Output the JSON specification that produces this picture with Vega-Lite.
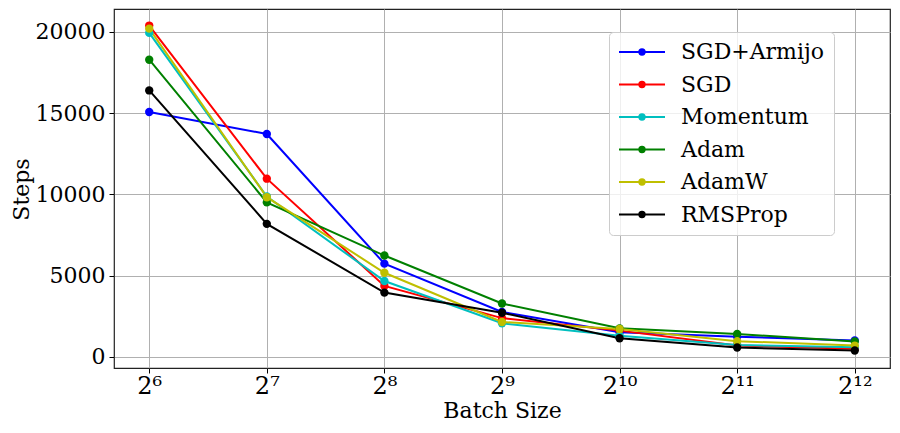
{
  "$schema": "https://vega.github.io/schema/vega-lite/v6.json",
  "width": 776,
  "height": 359,
  "autosize": "none",
  "padding": {"left": 114, "top": 9, "right": 10, "bottom": 65},
  "background": "white",
  "config": {
    "font": "DejaVu Serif",
    "view": {"stroke": "#222222", "strokeWidth": 1.2},
    "axis": {
      "labelFont": "DejaVu Serif",
      "titleFont": "DejaVu Serif",
      "labelFontSize": 22,
      "titleFontSize": 22,
      "titleFontWeight": "normal",
      "labelColor": "black",
      "titleColor": "black",
      "gridColor": "#b0b0b0",
      "gridWidth": 1,
      "gridOpacity": 1,
      "tickColor": "black",
      "tickSize": 5,
      "tickWidth": 1,
      "domain": false
    }
  },
  "data": {
    "values": [
      {"optimizer": "SGD+Armijo", "batch": 64, "steps": 15060},
      {"optimizer": "SGD+Armijo", "batch": 128, "steps": 13710},
      {"optimizer": "SGD+Armijo", "batch": 256, "steps": 5730},
      {"optimizer": "SGD+Armijo", "batch": 512, "steps": 2760},
      {"optimizer": "SGD+Armijo", "batch": 1024, "steps": 1510},
      {"optimizer": "SGD+Armijo", "batch": 2048, "steps": 1240},
      {"optimizer": "SGD+Armijo", "batch": 4096, "steps": 1000},
      {"optimizer": "SGD", "batch": 64, "steps": 20380},
      {"optimizer": "SGD", "batch": 128, "steps": 10960},
      {"optimizer": "SGD", "batch": 256, "steps": 4360},
      {"optimizer": "SGD", "batch": 512, "steps": 2380},
      {"optimizer": "SGD", "batch": 1024, "steps": 1610},
      {"optimizer": "SGD", "batch": 2048, "steps": 690},
      {"optimizer": "SGD", "batch": 4096, "steps": 490},
      {"optimizer": "Momentum", "batch": 64, "steps": 19930},
      {"optimizer": "Momentum", "batch": 128, "steps": 9860},
      {"optimizer": "Momentum", "batch": 256, "steps": 4660},
      {"optimizer": "Momentum", "batch": 512, "steps": 2060},
      {"optimizer": "Momentum", "batch": 1024, "steps": 1300},
      {"optimizer": "Momentum", "batch": 2048, "steps": 730},
      {"optimizer": "Momentum", "batch": 4096, "steps": 590},
      {"optimizer": "Adam", "batch": 64, "steps": 18280},
      {"optimizer": "Adam", "batch": 128, "steps": 9500},
      {"optimizer": "Adam", "batch": 256, "steps": 6230},
      {"optimizer": "Adam", "batch": 512, "steps": 3280},
      {"optimizer": "Adam", "batch": 1024, "steps": 1750},
      {"optimizer": "Adam", "batch": 2048, "steps": 1400},
      {"optimizer": "Adam", "batch": 4096, "steps": 940},
      {"optimizer": "AdamW", "batch": 64, "steps": 20190},
      {"optimizer": "AdamW", "batch": 128, "steps": 9820},
      {"optimizer": "AdamW", "batch": 256, "steps": 5170},
      {"optimizer": "AdamW", "batch": 512, "steps": 2140},
      {"optimizer": "AdamW", "batch": 1024, "steps": 1710},
      {"optimizer": "AdamW", "batch": 2048, "steps": 960},
      {"optimizer": "AdamW", "batch": 4096, "steps": 690},
      {"optimizer": "RMSProp", "batch": 64, "steps": 16390},
      {"optimizer": "RMSProp", "batch": 128, "steps": 8180},
      {"optimizer": "RMSProp", "batch": 256, "steps": 3950},
      {"optimizer": "RMSProp", "batch": 512, "steps": 2710},
      {"optimizer": "RMSProp", "batch": 1024, "steps": 1140},
      {"optimizer": "RMSProp", "batch": 2048, "steps": 570},
      {"optimizer": "RMSProp", "batch": 4096, "steps": 390}
    ]
  },
  "mark": {
    "type": "line",
    "strokeWidth": 2,
    "point": {"filled": true, "size": 70, "opacity": 1}
  },
  "encoding": {
    "x": {
      "field": "batch",
      "type": "quantitative",
      "scale": {"type": "log", "base": 2, "domain": [52.0, 5042.0], "nice": false},
      "axis": {
        "title": "Batch Size",
        "values": [64, 128, 256, 512, 1024, 2048, 4096],
        "labelExpr": "{'64': '2⁶', '128': '2⁷', '256': '2⁸', '512': '2⁹', '1024': '2¹⁰', '2048': '2¹¹', '4096': '2¹²'}[datum.value + '']",
        "labelFontSize": 24,
        "labelPadding": 1,
        "titleY": 42,
        "titleBaseline": "middle"
      }
    },
    "y": {
      "field": "steps",
      "type": "quantitative",
      "scale": {"domain": [-690, 21400], "nice": false, "zero": false},
      "axis": {
        "title": "Steps",
        "values": [0, 5000, 10000, 15000, 20000],
        "format": "d",
        "labelPadding": 4,
        "titleX": -93,
        "titleY": 180,
        "titleBaseline": "middle",
        "titleAlign": "center",
        "titleAngle": -90
      }
    },
    "color": {
      "field": "optimizer",
      "type": "nominal",
      "sort": null,
      "scale": {
        "domain": ["SGD+Armijo", "SGD", "Momentum", "Adam", "AdamW", "RMSProp"],
        "range": ["#0000ff", "#ff0000", "#00bfbf", "#008000", "#bfbf00", "#000000"]
      },
      "legend": {
        "title": null,
        "orient": "none",
        "legendX": 495,
        "legendY": 23,
        "symbolType": "M-2.3,0L2.3,0M-0.27,0A0.27,0.27,0,1,1,0.27,0A0.27,0.27,0,1,1,-0.27,0Z",
        "symbolSize": 400,
        "symbolStrokeWidth": 2,
        "symbolOffset": 13,
        "labelOffset": 28,
        "labelFont": "DejaVu Serif",
        "labelFontSize": 22,
        "labelColor": "black",
        "rowPadding": 10.5,
        "padding": 9,
        "strokeColor": "#cccccc",
        "fillColor": "rgba(255,255,255,0.8)",
        "cornerRadius": 4,
        "encode": {
          "symbols": {
            "update": {
              "fill": {"scale": "color", "field": "value"},
              "stroke": {"scale": "color", "field": "value"},
              "fillOpacity": {"value": 1},
              "strokeOpacity": {"value": 1}
            }
          }
        }
      }
    }
  }
}
